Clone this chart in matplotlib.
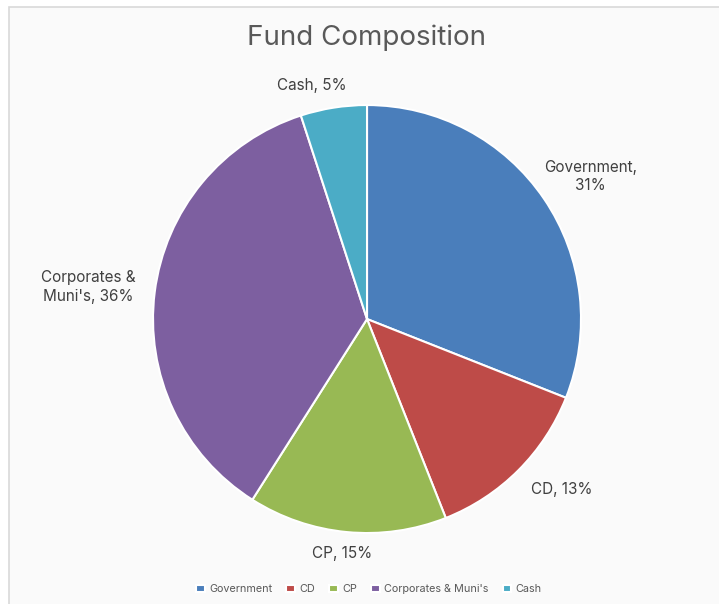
import matplotlib.pyplot as plt
import numpy as np
from matplotlib.patches import Rectangle

# Fund composition data
categories = ["Government", "CD", "CP", "Corporates & Muni's", "Cash"]
values = [31, 13, 15, 36, 5]
colors = ["#4A7EBB", "#BE4B48", "#98B954", "#7D5FA0", "#4BACC6"]
label_text = ["Government,\n31%", "CD, 13%", "CP, 15%", "Corporates &\nMuni's, 36%", "Cash, 5%"]
# label placement: distance from centre (in radii) and angle nudge (deg)
label_dist = [1.24, 1.21, 1.10, 1.31, 1.12]
label_nudge = [-1.7, 3.9, -0.6, 0.7, 4.2]

plt.rcParams['font.family'] = ['Inter', 'DejaVu Sans']
text_color = "#404040"

fig = plt.figure(figsize=(7.19, 6.04), dpi=100)
fig.patch.set_facecolor("white")

# chart area frame
fig.patches.append(Rectangle((9 / 719, -0.05), 1.0, (604 - 7) / 604 + 0.05,
                             transform=fig.transFigure, facecolor="#FAFAFA",
                             edgecolor="#D9D9D9", linewidth=1.2, zorder=-5))

ax = fig.add_axes([0.2128, 0.1175, 0.5953, 0.7086])
ax.set_facecolor("none")
ax.set_zorder(2)
wedges, _ = ax.pie(values, colors=colors, startangle=90, counterclock=False,
                   wedgeprops=dict(edgecolor="white", linewidth=1.5))
ax.set_aspect("equal")
ax.set_xlim(-1, 1)
ax.set_ylim(-1, 1)

# data labels outside each slice
for w, txt, d, nud in zip(wedges, label_text, label_dist, label_nudge):
    ang = np.deg2rad((w.theta1 + w.theta2) / 2 + nud)
    ax.text(d * np.cos(ang), d * np.sin(ang), txt, ha="center", va="center",
            fontsize=11, color=text_color, linespacing=1.3)

fig.text(0.5104, 0.937, "Fund Composition", ha="center", va="center",
         fontsize=20, color="#595959")

fig.legend(wedges, categories, loc="center", bbox_to_anchor=(0.513, 0.025),
           ncol=5, frameon=False, fontsize=7.8, handlelength=0.8, handleheight=0.6,
           handletextpad=0.4, columnspacing=1.3, labelcolor="#595959")

plt.savefig("out.png", dpi=100)
